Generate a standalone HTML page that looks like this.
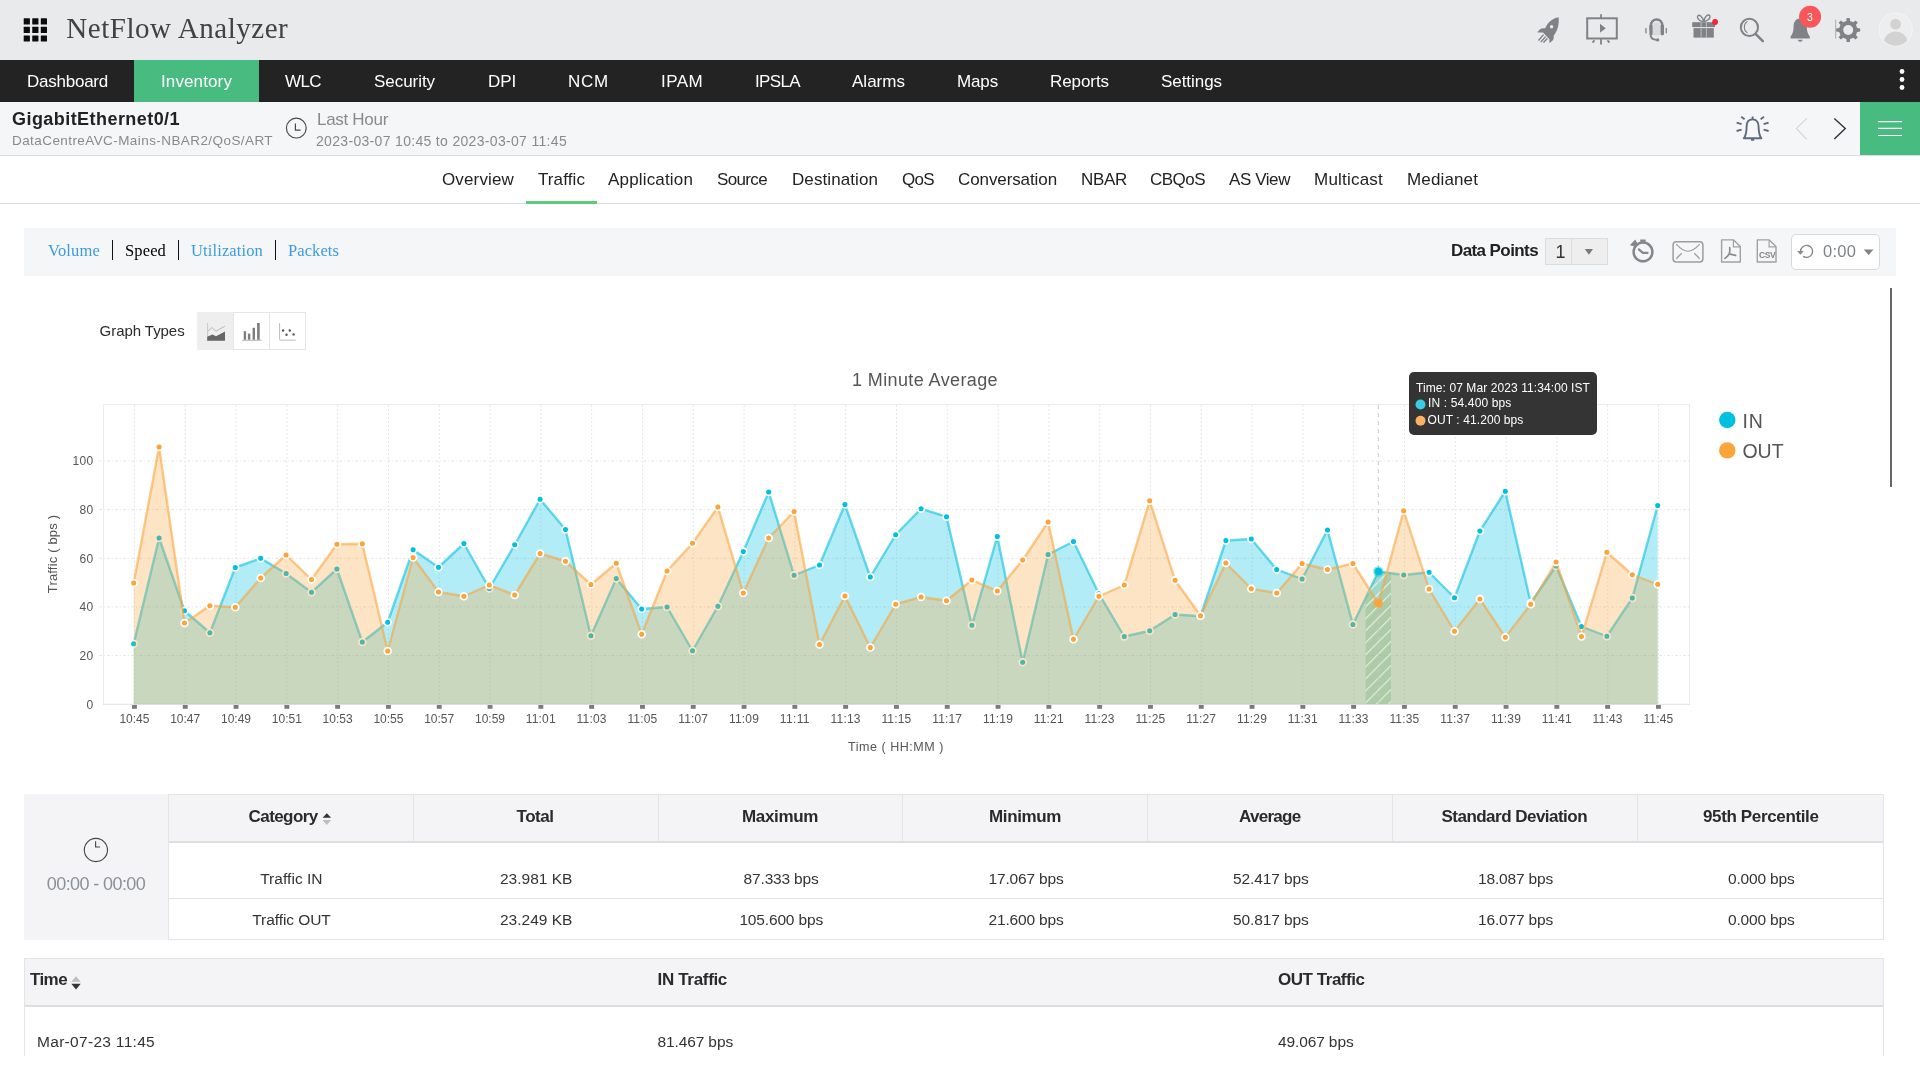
<!DOCTYPE html>
<html><head><meta charset="utf-8"><title>NetFlow Analyzer</title>
<style>
html,body{margin:0;padding:0;}
body{width:1920px;height:1080px;overflow:hidden;background:#fff;position:relative;font-family:"Liberation Sans",sans-serif;}
.abs{position:absolute;}
.fs{font-family:"Liberation Serif",serif;}
svg{position:absolute;overflow:visible;}
#wrap{position:absolute;left:0;top:0;width:1920px;height:1080px;will-change:transform;}
</style></head><body><div id="wrap">

<div class="abs" style="left:0;top:0;width:1920px;height:60px;background:#e9eaeb;"></div>
<svg width="1920" height="60" style="left:0;top:0"><rect x="23.70" y="18.30" width="6.2" height="6.2" rx="0.5" fill="#0c0c0c"/><rect x="32.25" y="18.30" width="6.2" height="6.2" rx="0.5" fill="#0c0c0c"/><rect x="40.80" y="18.30" width="6.2" height="6.2" rx="0.5" fill="#0c0c0c"/><rect x="23.70" y="26.85" width="6.2" height="6.2" rx="0.5" fill="#0c0c0c"/><rect x="32.25" y="26.85" width="6.2" height="6.2" rx="0.5" fill="#0c0c0c"/><rect x="40.80" y="26.85" width="6.2" height="6.2" rx="0.5" fill="#0c0c0c"/><rect x="23.70" y="35.40" width="6.2" height="6.2" rx="0.5" fill="#0c0c0c"/><rect x="32.25" y="35.40" width="6.2" height="6.2" rx="0.5" fill="#0c0c0c"/><rect x="40.80" y="35.40" width="6.2" height="6.2" rx="0.5" fill="#0c0c0c"/></svg>
<div class="abs fs" style="left:66.3px;top:11.0px;height:35px;line-height:35px;font-size:29px;font-weight:400;color:#424242;letter-spacing:0.536px;white-space:nowrap;">NetFlow Analyzer</div>
<div class="abs" style="left:0;top:60px;width:1920px;height:42px;background:#232323;"></div>
<div class="abs" style="left:134px;top:60px;width:125px;height:42px;background:#48bb80;"></div>
<div class="abs" style="left:27.0px;top:71.6px;height:20px;line-height:20px;font-size:17px;font-weight:400;color:#fff;letter-spacing:-0.240px;white-space:nowrap;">Dashboard</div>
<div class="abs" style="left:161.0px;top:71.6px;height:20px;line-height:20px;font-size:17px;font-weight:400;color:#fff;letter-spacing:0.120px;white-space:nowrap;">Inventory</div>
<div class="abs" style="left:285.0px;top:71.6px;height:20px;line-height:20px;font-size:17px;font-weight:400;color:#fff;letter-spacing:-0.592px;white-space:nowrap;">WLC</div>
<div class="abs" style="left:374.0px;top:71.6px;height:20px;line-height:20px;font-size:17px;font-weight:400;color:#fff;letter-spacing:-0.051px;white-space:nowrap;">Security</div>
<div class="abs" style="left:488.0px;top:71.6px;height:20px;line-height:20px;font-size:17px;font-weight:400;color:#fff;letter-spacing:-0.113px;white-space:nowrap;">DPI</div>
<div class="abs" style="left:568.0px;top:71.6px;height:20px;line-height:20px;font-size:17px;font-weight:400;color:#fff;letter-spacing:0.762px;white-space:nowrap;">NCM</div>
<div class="abs" style="left:661.0px;top:71.6px;height:20px;line-height:20px;font-size:17px;font-weight:400;color:#fff;letter-spacing:0.425px;white-space:nowrap;">IPAM</div>
<div class="abs" style="left:755.0px;top:71.6px;height:20px;line-height:20px;font-size:17px;font-weight:400;color:#fff;letter-spacing:-0.639px;white-space:nowrap;">IPSLA</div>
<div class="abs" style="left:852.0px;top:71.6px;height:20px;line-height:20px;font-size:17px;font-weight:400;color:#fff;letter-spacing:0.018px;white-space:nowrap;">Alarms</div>
<div class="abs" style="left:957.0px;top:71.6px;height:20px;line-height:20px;font-size:17px;font-weight:400;color:#fff;letter-spacing:-0.142px;white-space:nowrap;">Maps</div>
<div class="abs" style="left:1050.0px;top:71.6px;height:20px;line-height:20px;font-size:17px;font-weight:400;color:#fff;letter-spacing:-0.074px;white-space:nowrap;">Reports</div>
<div class="abs" style="left:1161.0px;top:71.6px;height:20px;line-height:20px;font-size:17px;font-weight:400;color:#fff;letter-spacing:-0.053px;white-space:nowrap;">Settings</div>
<svg width="20" height="42" style="left:1892px;top:60px"><circle cx="10" cy="11.5" r="2.4" fill="#fff"/><circle cx="10" cy="19.5" r="2.4" fill="#fff"/><circle cx="10" cy="27.5" r="2.4" fill="#fff"/></svg>
<div class="abs" style="left:0;top:102px;width:1920px;height:53px;background:#f5f6f8;border-bottom:1px solid #dcdcdc;"></div>
<div class="abs" style="left:12.0px;top:107.7px;height:22px;line-height:22px;font-size:18px;font-weight:700;color:#222;letter-spacing:0.443px;white-space:nowrap;">GigabitEthernet0/1</div>
<div class="abs" style="left:12.0px;top:133.0px;height:16px;line-height:16px;font-size:13.5px;font-weight:400;color:#8a8a8a;letter-spacing:0.422px;white-space:nowrap;">DataCentreAVC-Mains-NBAR2/QoS/ART</div>
<div class="abs" style="left:317.0px;top:110.2px;height:20px;line-height:20px;font-size:17px;font-weight:400;color:#8a8a8a;letter-spacing:-0.300px;white-space:nowrap;">Last Hour</div>
<div class="abs" style="left:316.0px;top:133.0px;height:17px;line-height:17px;font-size:14px;font-weight:400;color:#8a8a8a;letter-spacing:0.320px;white-space:nowrap;">2023-03-07 10:45 to 2023-03-07 11:45</div>
<svg width="24" height="24" style="left:284px;top:116px"><circle cx="12.3" cy="12.1" r="9.9" fill="none" stroke="#4a4a4a" stroke-width="1.2"/><path d="M11.4 7.4V14.2H16.6" fill="none" stroke="#4a4a4a" stroke-width="1.2"/></svg>
<div class="abs" style="left:1860px;top:102px;width:60px;height:53px;background:#48bb80;"></div>
<svg width="60" height="53" style="left:1860px;top:102px"><path d="M18 19.6H42M18 26.4H42M18 33.5H42" stroke="#fff" stroke-width="1.1"/></svg>
<div class="abs" style="left:0;top:156px;width:1920px;height:47px;background:#fff;border-bottom:1px solid #dcdcdc;"></div>
<div class="abs" style="left:442.0px;top:169.7px;height:20px;line-height:20px;font-size:17px;font-weight:400;color:#222;letter-spacing:0.144px;white-space:nowrap;">Overview</div>
<div class="abs" style="left:538.0px;top:169.7px;height:20px;line-height:20px;font-size:17px;font-weight:400;color:#222;letter-spacing:0.103px;white-space:nowrap;">Traffic</div>
<div class="abs" style="left:608.0px;top:169.7px;height:20px;line-height:20px;font-size:17px;font-weight:400;color:#222;letter-spacing:0.167px;white-space:nowrap;">Application</div>
<div class="abs" style="left:717.0px;top:169.7px;height:20px;line-height:20px;font-size:17px;font-weight:400;color:#222;letter-spacing:-0.643px;white-space:nowrap;">Source</div>
<div class="abs" style="left:792.0px;top:169.7px;height:20px;line-height:20px;font-size:17px;font-weight:400;color:#222;letter-spacing:0.087px;white-space:nowrap;">Destination</div>
<div class="abs" style="left:902.0px;top:169.7px;height:20px;line-height:20px;font-size:17px;font-weight:400;color:#222;letter-spacing:-0.672px;white-space:nowrap;">QoS</div>
<div class="abs" style="left:958.0px;top:169.7px;height:20px;line-height:20px;font-size:17px;font-weight:400;color:#222;letter-spacing:-0.097px;white-space:nowrap;">Conversation</div>
<div class="abs" style="left:1081.0px;top:169.7px;height:20px;line-height:20px;font-size:17px;font-weight:400;color:#222;letter-spacing:-0.308px;white-space:nowrap;">NBAR</div>
<div class="abs" style="left:1150.0px;top:169.7px;height:20px;line-height:20px;font-size:17px;font-weight:400;color:#222;letter-spacing:-0.527px;white-space:nowrap;">CBQoS</div>
<div class="abs" style="left:1229.0px;top:169.7px;height:20px;line-height:20px;font-size:17px;font-weight:400;color:#222;letter-spacing:-0.420px;white-space:nowrap;">AS View</div>
<div class="abs" style="left:1314.0px;top:169.7px;height:20px;line-height:20px;font-size:17px;font-weight:400;color:#222;letter-spacing:0.215px;white-space:nowrap;">Multicast</div>
<div class="abs" style="left:1407.0px;top:169.7px;height:20px;line-height:20px;font-size:17px;font-weight:400;color:#222;letter-spacing:0.134px;white-space:nowrap;">Medianet</div>
<div class="abs" style="left:526px;top:200.7px;width:71px;height:3px;background:#5ccb7c;"></div>
<div class="abs" style="left:24px;top:228px;width:1872px;height:48px;background:#f5f6f8;"></div>
<div class="abs fs" style="left:48.0px;top:241.0px;height:20px;line-height:20px;font-size:16.5px;font-weight:400;color:#3a9be0;letter-spacing:0.161px;white-space:nowrap;">Volume</div>
<div class="abs fs" style="left:125.0px;top:241.0px;height:20px;line-height:20px;font-size:16.5px;font-weight:400;color:#000;letter-spacing:0.135px;white-space:nowrap;">Speed</div>
<div class="abs fs" style="left:191.0px;top:241.0px;height:20px;line-height:20px;font-size:16.5px;font-weight:400;color:#3a9be0;letter-spacing:0.130px;white-space:nowrap;">Utilization</div>
<div class="abs fs" style="left:288.0px;top:241.0px;height:20px;line-height:20px;font-size:16.5px;font-weight:400;color:#3a9be0;letter-spacing:0.085px;white-space:nowrap;">Packets</div>
<div class="abs" style="left:112px;top:240px;width:1px;height:20px;background:#111;"></div>
<div class="abs" style="left:178px;top:240px;width:1px;height:20px;background:#111;"></div>
<div class="abs" style="left:275px;top:240px;width:1px;height:20px;background:#111;"></div>
<div class="abs" style="left:1451.0px;top:241.0px;height:20px;line-height:20px;font-size:17px;font-weight:700;color:#222;letter-spacing:-0.592px;white-space:nowrap;">Data Points</div>
<svg width="1920" height="60" style="left:0;top:0">
<g fill="#808285"><path d="M1558.6 17.2C1552.5 18.2 1547.6 22.4 1545.2 28.2L1541.3 28.6C1539.7 29.6 1538.3 31 1537.4 32.4L1543 32.6L1549.6 39.6L1549.2 43C1551.2 42.2 1552.6 40.8 1553.6 38.8L1553.8 35.6C1557.4 31 1559.4 24.4 1558.6 17.2Z"/></g><circle cx="1551.6" cy="26.8" r="1.7" fill="#e9eaeb"/>
<path d="M1538.5 40.5L1543.5 34.6M1540.8 42L1545.6 36.6M1543.4 42.4L1547.4 38.4" stroke="#808285" stroke-width="1.4" fill="none"/>
<rect x="1587.2" y="18.3" width="29.6" height="20.2" fill="none" stroke="#808285" stroke-width="2"/>
<path d="M1601 14.2V18M1601 39V44.6M1594.5 40.2L1592.6 42.6M1607.5 40.2L1609.4 42.6" stroke="#808285" stroke-width="1.8" fill="none"/>
<path d="M1600 23.7V32.7L1605.8 28.2Z" fill="#808285"/>
<rect x="1652.4" y="22.6" width="8.2" height="13" rx="3" fill="#d9dadc"/>
<path d="M1650.7 30V26.5C1650.7 17 1662.5 17 1662.5 26.5V30" fill="none" stroke="#808285" stroke-width="2.5"/>
<rect x="1649.4" y="24.8" width="3.2" height="10.4" rx="1.2" fill="#808285"/><rect x="1660.6" y="24.8" width="3.4" height="10.4" rx="1.2" fill="#808285"/>
<rect x="1645.3" y="28.1" width="1.3" height="5.2" fill="#808285"/><rect x="1665.6" y="28.1" width="1.3" height="5.2" fill="#808285"/>
<path d="M1650.6 34.6C1650.6 38.2 1652.6 39.9 1656.6 39.9" fill="none" stroke="#808285" stroke-width="1.9"/><circle cx="1657.6" cy="39.9" r="1.7" fill="#808285"/>
<rect x="1692.2" y="22.2" width="22.9" height="4.9" fill="#808285"/><rect x="1693.5" y="28.1" width="20.3" height="9.5" fill="#808285"/>
<path d="M1701.1 22.2V37.6M1706.4 22.2V37.6" stroke="#d0d1d2" stroke-width="0.7"/>
<path d="M1703.6 21.6C1700 21.4 1696.6 18.6 1697.6 16.2C1698.8 13.6 1702.6 16.4 1703.6 21.4C1704.6 16.4 1708.6 13.4 1709.8 15.8C1710.8 18.2 1707.4 21.4 1703.8 21.6" fill="none" stroke="#808285" stroke-width="1.4"/>
<circle cx="1715.1" cy="22" r="2.9" fill="#f8212f"/>
<circle cx="1749.4" cy="27.4" r="8.6" fill="none" stroke="#808285" stroke-width="2"/>
<path d="M1747.6 21.6C1743.4 23.6 1743.2 30.2 1747.4 32.8" fill="none" stroke="#808285" stroke-width="1.1"/>
<path d="M1755.8 34.2L1762.8 41.2" stroke="#808285" stroke-width="2.6" stroke-linecap="round"/>
<path d="M1800.2 18.6C1795.8 18.6 1793.6 22 1793.6 26.6C1793.6 31.4 1792.6 34 1790.6 36.4V38.4H1809.8V36.4C1807.8 34 1806.8 31.4 1806.8 26.6C1806.8 22 1804.6 18.6 1800.2 18.6Z" fill="#808285"/>
<path d="M1797.8 39.8H1802.6C1802.6 42.4 1797.8 42.4 1797.8 39.8Z" fill="#808285"/>
<circle cx="1810.1" cy="16.8" r="11" fill="#f7575a"/>
<path d="M1835.7 19.8V38.6" stroke="#9a9b9d" stroke-width="0.8"/>
<path d="M1846.32 20.99 L1846.61 18.01 L1849.79 18.01 L1850.08 20.99 L1853.24 22.30 L1855.56 20.39 L1857.81 22.64 L1855.90 24.96 L1857.21 28.12 L1860.19 28.41 L1860.19 31.59 L1857.21 31.88 L1855.90 35.04 L1857.81 37.36 L1855.56 39.61 L1853.24 37.70 L1850.08 39.01 L1849.79 41.99 L1846.61 41.99 L1846.32 39.01 L1843.16 37.70 L1840.84 39.61 L1838.59 37.36 L1840.50 35.04 L1839.19 31.88 L1836.21 31.59 L1836.21 28.41 L1839.19 28.12 L1840.50 24.96 L1838.59 22.64 L1840.84 20.39 L1843.16 22.30Z" fill="#808285"/><circle cx="1848.2" cy="30" r="5" fill="#e9eaeb"/>
<defs><clipPath id="avc"><circle cx="1895.7" cy="29.5" r="16.2"/></clipPath></defs>
<circle cx="1895.7" cy="29.5" r="16.6" fill="#eeeeee" stroke="#f6f6f6" stroke-width="1"/>
<g clip-path="url(#avc)" fill="#d2d2d2"><circle cx="1895.6" cy="24.2" r="5.4"/><ellipse cx="1895.7" cy="43.4" rx="12" ry="12"/></g>
</svg>
<div class="abs" style="left:1807.1px;top:10.7px;height:13px;line-height:13px;font-size:10.5px;font-weight:400;color:#fff;letter-spacing:0.161px;white-space:nowrap;">3</div>
<svg width="1920" height="160" style="left:0;top:0">
<path d="M1752.6 119.4C1748.4 119.4 1746.6 122.6 1746.6 126.4C1746.6 131.6 1746 135.4 1743.8 138.3H1761.4C1759.2 135.4 1758.6 131.6 1758.6 126.4C1758.6 122.6 1756.8 119.4 1752.6 119.4Z" fill="none" stroke="#5f6b7a" stroke-width="1.9" stroke-linejoin="round"/>
<path d="M1752.6 116.6V119.4M1751 139.9H1754.2" stroke="#5f6b7a" stroke-width="1.9" fill="none"/>
<path d="M1741.2 116.8L1744.6 119.2M1736.6 122.6L1741.6 124.2M1736.6 131L1741.6 129.6M1764 116.8L1760.6 119.2M1768.6 122.6L1763.6 124.2M1768.6 131L1763.6 129.6" stroke="#5f6b7a" stroke-width="1.9" fill="none"/>
<path d="M1806.8 118.4L1796.4 128.4L1806.8 139.4" fill="none" stroke="#d4d4d4" stroke-width="1.1"/>
<path d="M1834.3 118.4L1845.3 128.4L1834.3 139.1" fill="none" stroke="#333" stroke-width="1.4"/>
</svg>
<div class="abs" style="left:1545px;top:238px;width:61px;height:25px;background:#eeeeee;border:1px solid #dcdcdc;"></div>
<div class="abs" style="left:1571px;top:238px;width:1px;height:26px;background:#dcdcdc;"></div>
<div class="abs" style="left:1555.4px;top:240.5px;height:22px;line-height:22px;font-size:18px;font-weight:400;color:#333;letter-spacing:-0.010px;white-space:nowrap;">1</div>
<svg width="1920" height="300" style="left:0;top:0">
<path d="M1584.8 249H1593L1588.9 254.8Z" fill="#7a7a7a"/>
<circle cx="1643" cy="251.9" r="9.4" fill="none" stroke="#85888b" stroke-width="2.5"/>
<path d="M1638.2 248.8L1642.9 252.8H1648.4" fill="none" stroke="#85888b" stroke-width="2.2" stroke-linejoin="round"/>
<rect x="1640.2" y="239.5" width="5.5" height="2.4" fill="#85888b"/>
<path d="M1629.9 245.2L1635.2 239.4L1637.6 243.8L1634.4 246.6Z" fill="#85888b"/>
<rect x="1673.1" y="241.8" width="29.8" height="20.1" rx="3.2" fill="none" stroke="#9c9d9f" stroke-width="1.5"/>
<path d="M1676.2 244.2C1681 249.4 1685 251.2 1687.9 251.2C1690.8 251.2 1695 249.4 1699.7 244.2" fill="none" stroke="#9c9d9f" stroke-width="1.1"/>
<path d="M1676.2 258.7L1681.7 253.2M1699.7 258.7L1694.3 253.2" fill="none" stroke="#9c9d9f" stroke-width="1.3"/>
<path d="M1721.6 239.9H1733.6L1740.3 246.6V262H1721.6Z" fill="none" stroke="#a0a1a3" stroke-width="1.4" stroke-linejoin="round"/>
<path d="M1733.4 239.9V246.8H1740.3" fill="none" stroke="#a0a1a3" stroke-width="1.2"/>
<path d="M1729.7 247.6C1730.2 250.4 1729.6 252.6 1729.2 254C1728 256 1726.4 257.4 1724.8 258.4M1729.4 254C1731.4 254.4 1733.6 254.8 1735.6 255.4" fill="none" stroke="#8a8c8e" stroke-width="1.7" stroke-linecap="round"/>
<path d="M1757.3 239.9H1769.3L1776 246.6V262H1757.3Z" fill="none" stroke="#a0a1a3" stroke-width="1.4" stroke-linejoin="round"/>
<path d="M1769.1 239.9V246.8H1776" fill="none" stroke="#a0a1a3" stroke-width="1.2"/>
</svg>
<div class="abs" style="left:1758.9px;top:250.0px;height:10px;line-height:10px;font-size:8.5px;font-weight:700;color:#858789;letter-spacing:-0.393px;white-space:nowrap;">CSV</div>
<div class="abs" style="left:1791.2px;top:233.9px;width:86.6px;height:33.9px;background:#fff;border:1px solid #d8d8d8;border-radius:5px;"></div>
<svg width="1920" height="300" style="left:0;top:0">
<path d="M1800.6 251.4A6 6 0 1 1 1803.2 256.3" fill="none" stroke="#85888b" stroke-width="1.4"/>
<path d="M1797.2 251L1803.7 251L1800.4 254.7Z" fill="#85888b"/>
<path d="M1863.7 249.6H1873.5L1868.6 255Z" fill="#808488"/>
</svg>
<div class="abs" style="left:1823.0px;top:241.2px;height:20px;line-height:20px;font-size:16.5px;font-weight:400;color:#808488;letter-spacing:0.297px;white-space:nowrap;">0:00</div>
<div class="abs" style="left:99.6px;top:322.0px;height:18px;line-height:18px;font-size:15px;font-weight:400;color:#2b2b2b;letter-spacing:-0.054px;white-space:nowrap;">Graph Types</div>
<div class="abs" style="left:197px;top:312px;width:109px;height:38px;border:1px solid #e6e6e6;box-sizing:border-box;background:#fff;"></div>
<div class="abs" style="left:197px;top:312px;width:37px;height:38px;background:#eeeeee;"></div>
<div class="abs" style="left:233px;top:312px;width:1px;height:38px;background:#e6e6e6;"></div>
<div class="abs" style="left:269px;top:312px;width:1px;height:38px;background:#e6e6e6;"></div>
<svg width="400" height="400" style="left:0;top:0">
<path d="M207.6 323V340.6" stroke="#c4c4c4" stroke-width="0.9" fill="none"/>
<path d="M207.6 331.4L211.8 327.6L216 331.2L224.8 326.2" stroke="#b9b9b9" stroke-width="1" fill="none"/>
<path d="M207.2 340.7V336.8L212.4 334.4L216 336.2L225 331.6V340.7Z" fill="#666"/>
<g fill="#7d7d7d"><rect x="243.7" y="331.2" width="2.4" height="8.6"/><rect x="247.9" y="333.6" width="2.4" height="6.2"/><rect x="252.6" y="327.8" width="2.4" height="12"/><rect x="257.1" y="323" width="2.6" height="16.8"/></g>
<path d="M242.2 340.3H261.6" stroke="#aaa" stroke-width="0.9"/>
<path d="M279.6 323.2V339.2Q279.6 340.2 280.6 340.2H295.8" stroke="#bdbdbd" stroke-width="1" fill="none"/>
<g fill="#555"><circle cx="283.1" cy="330.5" r="1.2"/><circle cx="286.5" cy="334.7" r="1.2"/><circle cx="289.8" cy="330.5" r="1.2"/><circle cx="293.6" cy="334.4" r="1.2"/></g>
</svg>
<svg width="1920" height="1080" style="left:0;top:0" shape-rendering="auto">
<defs><pattern id="hatch" width="8.5" height="8.5" patternUnits="userSpaceOnUse" patternTransform="rotate(-45)"><rect width="8.5" height="8.5" fill="#6fb072" fill-opacity="0.3"/><line x1="0" y1="0.6" x2="8.5" y2="0.6" stroke="#fff" stroke-opacity="0.7" stroke-width="1.1"/></pattern><clipPath id="inclip"><polygon points="133.7,704.2 133.7,643.75 159.1,538.00 184.5,610.75 209.9,632.75 235.3,567.50 260.7,558.25 286.1,573.50 311.5,592.25 336.9,569.00 362.3,642.00 387.7,622.25 413.1,549.75 438.5,567.25 463.9,543.50 489.3,588.50 514.7,544.75 540.1,499.25 565.5,529.50 590.9,635.75 616.3,578.50 641.7,609.00 667.1,607.00 692.5,650.75 717.9,606.25 743.3,551.50 768.7,492.00 794.1,575.25 819.5,565.00 844.9,504.50 870.3,577.00 895.7,534.75 921.1,508.75 946.5,516.75 971.9,625.25 997.3,536.50 1022.7,662.25 1048.1,554.50 1073.5,541.50 1098.9,593.75 1124.3,636.50 1149.7,630.75 1175.1,614.50 1200.5,616.25 1225.9,540.50 1251.3,539.00 1276.7,569.50 1302.1,579.00 1327.5,530.00 1352.9,624.50 1378.3,571.50 1403.7,575.00 1429.1,572.25 1454.5,597.75 1479.9,531.00 1505.3,491.25 1530.7,603.00 1556.1,566.00 1581.5,626.50 1606.9,636.25 1632.3,598.00 1657.7,505.50 1657.7,704.2"/></clipPath></defs>
<path d="M103.5 704.5V404.5H1689.5V704.5" fill="none" stroke="#ebebeb" stroke-width="1"/>
<path d="M103 704.3H1690" fill="none" stroke="#e2e2e2" stroke-width="1"/>
<path d="M99 655.6H1689" stroke="#e6e6e6" stroke-width="1" stroke-dasharray="3,2,1,2" fill="none"/>
<path d="M99 606.9H1689" stroke="#e6e6e6" stroke-width="1" stroke-dasharray="3,2,1,2" fill="none"/>
<path d="M99 558.3H1689" stroke="#e6e6e6" stroke-width="1" stroke-dasharray="3,2,1,2" fill="none"/>
<path d="M99 509.6H1689" stroke="#e6e6e6" stroke-width="1" stroke-dasharray="3,2,1,2" fill="none"/>
<path d="M99 461.0H1689" stroke="#e6e6e6" stroke-width="1" stroke-dasharray="3,2,1,2" fill="none"/>
<path d="M134.5 405V704" stroke="#e8e8e8" stroke-width="1" stroke-dasharray="2,2" fill="none"/>
<path d="M185.3 405V704" stroke="#e8e8e8" stroke-width="1" stroke-dasharray="2,2" fill="none"/>
<path d="M236.1 405V704" stroke="#e8e8e8" stroke-width="1" stroke-dasharray="2,2" fill="none"/>
<path d="M286.9 405V704" stroke="#e8e8e8" stroke-width="1" stroke-dasharray="2,2" fill="none"/>
<path d="M337.7 405V704" stroke="#e8e8e8" stroke-width="1" stroke-dasharray="2,2" fill="none"/>
<path d="M388.5 405V704" stroke="#e8e8e8" stroke-width="1" stroke-dasharray="2,2" fill="none"/>
<path d="M439.3 405V704" stroke="#e8e8e8" stroke-width="1" stroke-dasharray="2,2" fill="none"/>
<path d="M490.1 405V704" stroke="#e8e8e8" stroke-width="1" stroke-dasharray="2,2" fill="none"/>
<path d="M540.9 405V704" stroke="#e8e8e8" stroke-width="1" stroke-dasharray="2,2" fill="none"/>
<path d="M591.7 405V704" stroke="#e8e8e8" stroke-width="1" stroke-dasharray="2,2" fill="none"/>
<path d="M642.5 405V704" stroke="#e8e8e8" stroke-width="1" stroke-dasharray="2,2" fill="none"/>
<path d="M693.3 405V704" stroke="#e8e8e8" stroke-width="1" stroke-dasharray="2,2" fill="none"/>
<path d="M744.1 405V704" stroke="#e8e8e8" stroke-width="1" stroke-dasharray="2,2" fill="none"/>
<path d="M794.9 405V704" stroke="#e8e8e8" stroke-width="1" stroke-dasharray="2,2" fill="none"/>
<path d="M845.7 405V704" stroke="#e8e8e8" stroke-width="1" stroke-dasharray="2,2" fill="none"/>
<path d="M896.5 405V704" stroke="#e8e8e8" stroke-width="1" stroke-dasharray="2,2" fill="none"/>
<path d="M947.3 405V704" stroke="#e8e8e8" stroke-width="1" stroke-dasharray="2,2" fill="none"/>
<path d="M998.1 405V704" stroke="#e8e8e8" stroke-width="1" stroke-dasharray="2,2" fill="none"/>
<path d="M1048.9 405V704" stroke="#e8e8e8" stroke-width="1" stroke-dasharray="2,2" fill="none"/>
<path d="M1099.7 405V704" stroke="#e8e8e8" stroke-width="1" stroke-dasharray="2,2" fill="none"/>
<path d="M1150.5 405V704" stroke="#e8e8e8" stroke-width="1" stroke-dasharray="2,2" fill="none"/>
<path d="M1201.3 405V704" stroke="#e8e8e8" stroke-width="1" stroke-dasharray="2,2" fill="none"/>
<path d="M1252.1 405V704" stroke="#e8e8e8" stroke-width="1" stroke-dasharray="2,2" fill="none"/>
<path d="M1302.9 405V704" stroke="#e8e8e8" stroke-width="1" stroke-dasharray="2,2" fill="none"/>
<path d="M1353.7 405V704" stroke="#e8e8e8" stroke-width="1" stroke-dasharray="2,2" fill="none"/>
<path d="M1404.5 405V704" stroke="#e8e8e8" stroke-width="1" stroke-dasharray="2,2" fill="none"/>
<path d="M1455.3 405V704" stroke="#e8e8e8" stroke-width="1" stroke-dasharray="2,2" fill="none"/>
<path d="M1506.1 405V704" stroke="#e8e8e8" stroke-width="1" stroke-dasharray="2,2" fill="none"/>
<path d="M1556.9 405V704" stroke="#e8e8e8" stroke-width="1" stroke-dasharray="2,2" fill="none"/>
<path d="M1607.7 405V704" stroke="#e8e8e8" stroke-width="1" stroke-dasharray="2,2" fill="none"/>
<path d="M1658.5 405V704" stroke="#e8e8e8" stroke-width="1" stroke-dasharray="2,2" fill="none"/>
<polygon points="133.7,704.2 133.7,643.75 159.1,538.00 184.5,610.75 209.9,632.75 235.3,567.50 260.7,558.25 286.1,573.50 311.5,592.25 336.9,569.00 362.3,642.00 387.7,622.25 413.1,549.75 438.5,567.25 463.9,543.50 489.3,588.50 514.7,544.75 540.1,499.25 565.5,529.50 590.9,635.75 616.3,578.50 641.7,609.00 667.1,607.00 692.5,650.75 717.9,606.25 743.3,551.50 768.7,492.00 794.1,575.25 819.5,565.00 844.9,504.50 870.3,577.00 895.7,534.75 921.1,508.75 946.5,516.75 971.9,625.25 997.3,536.50 1022.7,662.25 1048.1,554.50 1073.5,541.50 1098.9,593.75 1124.3,636.50 1149.7,630.75 1175.1,614.50 1200.5,616.25 1225.9,540.50 1251.3,539.00 1276.7,569.50 1302.1,579.00 1327.5,530.00 1352.9,624.50 1378.3,571.50 1403.7,575.00 1429.1,572.25 1454.5,597.75 1479.9,531.00 1505.3,491.25 1530.7,603.00 1556.1,566.00 1581.5,626.50 1606.9,636.25 1632.3,598.00 1657.7,505.50 1657.7,704.2" fill="#00c0e0" fill-opacity="0.3"/>
<polyline points="133.7,643.75 159.1,538.00 184.5,610.75 209.9,632.75 235.3,567.50 260.7,558.25 286.1,573.50 311.5,592.25 336.9,569.00 362.3,642.00 387.7,622.25 413.1,549.75 438.5,567.25 463.9,543.50 489.3,588.50 514.7,544.75 540.1,499.25 565.5,529.50 590.9,635.75 616.3,578.50 641.7,609.00 667.1,607.00 692.5,650.75 717.9,606.25 743.3,551.50 768.7,492.00 794.1,575.25 819.5,565.00 844.9,504.50 870.3,577.00 895.7,534.75 921.1,508.75 946.5,516.75 971.9,625.25 997.3,536.50 1022.7,662.25 1048.1,554.50 1073.5,541.50 1098.9,593.75 1124.3,636.50 1149.7,630.75 1175.1,614.50 1200.5,616.25 1225.9,540.50 1251.3,539.00 1276.7,569.50 1302.1,579.00 1327.5,530.00 1352.9,624.50 1378.3,571.50 1403.7,575.00 1429.1,572.25 1454.5,597.75 1479.9,531.00 1505.3,491.25 1530.7,603.00 1556.1,566.00 1581.5,626.50 1606.9,636.25 1632.3,598.00 1657.7,505.50" fill="none" stroke="#00c0e0" stroke-opacity="0.58" stroke-width="2.4" stroke-linejoin="round"/>
<circle cx="133.7" cy="643.75" r="3.4" fill="#00c0e0" stroke="#fff" stroke-width="1.7"/>
<circle cx="159.1" cy="538.00" r="3.4" fill="#00c0e0" stroke="#fff" stroke-width="1.7"/>
<circle cx="184.5" cy="610.75" r="3.4" fill="#00c0e0" stroke="#fff" stroke-width="1.7"/>
<circle cx="209.9" cy="632.75" r="3.4" fill="#00c0e0" stroke="#fff" stroke-width="1.7"/>
<circle cx="235.3" cy="567.50" r="3.4" fill="#00c0e0" stroke="#fff" stroke-width="1.7"/>
<circle cx="260.7" cy="558.25" r="3.4" fill="#00c0e0" stroke="#fff" stroke-width="1.7"/>
<circle cx="286.1" cy="573.50" r="3.4" fill="#00c0e0" stroke="#fff" stroke-width="1.7"/>
<circle cx="311.5" cy="592.25" r="3.4" fill="#00c0e0" stroke="#fff" stroke-width="1.7"/>
<circle cx="336.9" cy="569.00" r="3.4" fill="#00c0e0" stroke="#fff" stroke-width="1.7"/>
<circle cx="362.3" cy="642.00" r="3.4" fill="#00c0e0" stroke="#fff" stroke-width="1.7"/>
<circle cx="387.7" cy="622.25" r="3.4" fill="#00c0e0" stroke="#fff" stroke-width="1.7"/>
<circle cx="413.1" cy="549.75" r="3.4" fill="#00c0e0" stroke="#fff" stroke-width="1.7"/>
<circle cx="438.5" cy="567.25" r="3.4" fill="#00c0e0" stroke="#fff" stroke-width="1.7"/>
<circle cx="463.9" cy="543.50" r="3.4" fill="#00c0e0" stroke="#fff" stroke-width="1.7"/>
<circle cx="489.3" cy="588.50" r="3.4" fill="#00c0e0" stroke="#fff" stroke-width="1.7"/>
<circle cx="514.7" cy="544.75" r="3.4" fill="#00c0e0" stroke="#fff" stroke-width="1.7"/>
<circle cx="540.1" cy="499.25" r="3.4" fill="#00c0e0" stroke="#fff" stroke-width="1.7"/>
<circle cx="565.5" cy="529.50" r="3.4" fill="#00c0e0" stroke="#fff" stroke-width="1.7"/>
<circle cx="590.9" cy="635.75" r="3.4" fill="#00c0e0" stroke="#fff" stroke-width="1.7"/>
<circle cx="616.3" cy="578.50" r="3.4" fill="#00c0e0" stroke="#fff" stroke-width="1.7"/>
<circle cx="641.7" cy="609.00" r="3.4" fill="#00c0e0" stroke="#fff" stroke-width="1.7"/>
<circle cx="667.1" cy="607.00" r="3.4" fill="#00c0e0" stroke="#fff" stroke-width="1.7"/>
<circle cx="692.5" cy="650.75" r="3.4" fill="#00c0e0" stroke="#fff" stroke-width="1.7"/>
<circle cx="717.9" cy="606.25" r="3.4" fill="#00c0e0" stroke="#fff" stroke-width="1.7"/>
<circle cx="743.3" cy="551.50" r="3.4" fill="#00c0e0" stroke="#fff" stroke-width="1.7"/>
<circle cx="768.7" cy="492.00" r="3.4" fill="#00c0e0" stroke="#fff" stroke-width="1.7"/>
<circle cx="794.1" cy="575.25" r="3.4" fill="#00c0e0" stroke="#fff" stroke-width="1.7"/>
<circle cx="819.5" cy="565.00" r="3.4" fill="#00c0e0" stroke="#fff" stroke-width="1.7"/>
<circle cx="844.9" cy="504.50" r="3.4" fill="#00c0e0" stroke="#fff" stroke-width="1.7"/>
<circle cx="870.3" cy="577.00" r="3.4" fill="#00c0e0" stroke="#fff" stroke-width="1.7"/>
<circle cx="895.7" cy="534.75" r="3.4" fill="#00c0e0" stroke="#fff" stroke-width="1.7"/>
<circle cx="921.1" cy="508.75" r="3.4" fill="#00c0e0" stroke="#fff" stroke-width="1.7"/>
<circle cx="946.5" cy="516.75" r="3.4" fill="#00c0e0" stroke="#fff" stroke-width="1.7"/>
<circle cx="971.9" cy="625.25" r="3.4" fill="#00c0e0" stroke="#fff" stroke-width="1.7"/>
<circle cx="997.3" cy="536.50" r="3.4" fill="#00c0e0" stroke="#fff" stroke-width="1.7"/>
<circle cx="1022.7" cy="662.25" r="3.4" fill="#00c0e0" stroke="#fff" stroke-width="1.7"/>
<circle cx="1048.1" cy="554.50" r="3.4" fill="#00c0e0" stroke="#fff" stroke-width="1.7"/>
<circle cx="1073.5" cy="541.50" r="3.4" fill="#00c0e0" stroke="#fff" stroke-width="1.7"/>
<circle cx="1098.9" cy="593.75" r="3.4" fill="#00c0e0" stroke="#fff" stroke-width="1.7"/>
<circle cx="1124.3" cy="636.50" r="3.4" fill="#00c0e0" stroke="#fff" stroke-width="1.7"/>
<circle cx="1149.7" cy="630.75" r="3.4" fill="#00c0e0" stroke="#fff" stroke-width="1.7"/>
<circle cx="1175.1" cy="614.50" r="3.4" fill="#00c0e0" stroke="#fff" stroke-width="1.7"/>
<circle cx="1200.5" cy="616.25" r="3.4" fill="#00c0e0" stroke="#fff" stroke-width="1.7"/>
<circle cx="1225.9" cy="540.50" r="3.4" fill="#00c0e0" stroke="#fff" stroke-width="1.7"/>
<circle cx="1251.3" cy="539.00" r="3.4" fill="#00c0e0" stroke="#fff" stroke-width="1.7"/>
<circle cx="1276.7" cy="569.50" r="3.4" fill="#00c0e0" stroke="#fff" stroke-width="1.7"/>
<circle cx="1302.1" cy="579.00" r="3.4" fill="#00c0e0" stroke="#fff" stroke-width="1.7"/>
<circle cx="1327.5" cy="530.00" r="3.4" fill="#00c0e0" stroke="#fff" stroke-width="1.7"/>
<circle cx="1352.9" cy="624.50" r="3.4" fill="#00c0e0" stroke="#fff" stroke-width="1.7"/>
<circle cx="1403.7" cy="575.00" r="3.4" fill="#00c0e0" stroke="#fff" stroke-width="1.7"/>
<circle cx="1429.1" cy="572.25" r="3.4" fill="#00c0e0" stroke="#fff" stroke-width="1.7"/>
<circle cx="1454.5" cy="597.75" r="3.4" fill="#00c0e0" stroke="#fff" stroke-width="1.7"/>
<circle cx="1479.9" cy="531.00" r="3.4" fill="#00c0e0" stroke="#fff" stroke-width="1.7"/>
<circle cx="1505.3" cy="491.25" r="3.4" fill="#00c0e0" stroke="#fff" stroke-width="1.7"/>
<circle cx="1530.7" cy="603.00" r="3.4" fill="#00c0e0" stroke="#fff" stroke-width="1.7"/>
<circle cx="1556.1" cy="566.00" r="3.4" fill="#00c0e0" stroke="#fff" stroke-width="1.7"/>
<circle cx="1581.5" cy="626.50" r="3.4" fill="#00c0e0" stroke="#fff" stroke-width="1.7"/>
<circle cx="1606.9" cy="636.25" r="3.4" fill="#00c0e0" stroke="#fff" stroke-width="1.7"/>
<circle cx="1632.3" cy="598.00" r="3.4" fill="#00c0e0" stroke="#fff" stroke-width="1.7"/>
<circle cx="1657.7" cy="505.50" r="3.4" fill="#00c0e0" stroke="#fff" stroke-width="1.7"/>
<polygon points="133.7,704.2 133.7,583.00 159.1,447.00 184.5,623.00 209.9,605.75 235.3,607.25 260.7,578.00 286.1,555.00 311.5,579.50 336.9,544.25 362.3,543.75 387.7,651.00 413.1,557.50 438.5,592.00 463.9,596.25 489.3,585.00 514.7,595.00 540.1,553.50 565.5,561.25 590.9,584.50 616.3,563.25 641.7,634.25 667.1,571.00 692.5,543.25 717.9,507.00 743.3,593.00 768.7,538.00 794.1,511.50 819.5,644.50 844.9,596.00 870.3,647.50 895.7,604.25 921.1,597.00 946.5,600.75 971.9,580.00 997.3,591.00 1022.7,560.00 1048.1,522.00 1073.5,639.25 1098.9,596.25 1124.3,585.00 1149.7,500.75 1175.1,580.25 1200.5,615.75 1225.9,563.00 1251.3,588.75 1276.7,593.00 1302.1,563.50 1327.5,569.50 1352.9,563.50 1378.3,603.25 1403.7,510.75 1429.1,589.00 1454.5,631.25 1479.9,599.00 1505.3,637.25 1530.7,604.25 1556.1,562.00 1581.5,636.50 1606.9,552.25 1632.3,574.75 1657.7,584.25 1657.7,704.2" fill="#faa43a" fill-opacity="0.3"/>
<rect x="1365.6" y="404" width="25.4" height="300.2" fill="url(#hatch)" clip-path="url(#inclip)"/>
<polyline points="133.7,583.00 159.1,447.00 184.5,623.00 209.9,605.75 235.3,607.25 260.7,578.00 286.1,555.00 311.5,579.50 336.9,544.25 362.3,543.75 387.7,651.00 413.1,557.50 438.5,592.00 463.9,596.25 489.3,585.00 514.7,595.00 540.1,553.50 565.5,561.25 590.9,584.50 616.3,563.25 641.7,634.25 667.1,571.00 692.5,543.25 717.9,507.00 743.3,593.00 768.7,538.00 794.1,511.50 819.5,644.50 844.9,596.00 870.3,647.50 895.7,604.25 921.1,597.00 946.5,600.75 971.9,580.00 997.3,591.00 1022.7,560.00 1048.1,522.00 1073.5,639.25 1098.9,596.25 1124.3,585.00 1149.7,500.75 1175.1,580.25 1200.5,615.75 1225.9,563.00 1251.3,588.75 1276.7,593.00 1302.1,563.50 1327.5,569.50 1352.9,563.50 1378.3,603.25 1403.7,510.75 1429.1,589.00 1454.5,631.25 1479.9,599.00 1505.3,637.25 1530.7,604.25 1556.1,562.00 1581.5,636.50 1606.9,552.25 1632.3,574.75 1657.7,584.25" fill="none" stroke="#faa43a" stroke-opacity="0.58" stroke-width="2.4" stroke-linejoin="round"/>
<circle cx="133.7" cy="583.00" r="3.4" fill="#faa43a" stroke="#fff" stroke-width="1.7"/>
<circle cx="159.1" cy="447.00" r="3.4" fill="#faa43a" stroke="#fff" stroke-width="1.7"/>
<circle cx="184.5" cy="623.00" r="3.4" fill="#faa43a" stroke="#fff" stroke-width="1.7"/>
<circle cx="209.9" cy="605.75" r="3.4" fill="#faa43a" stroke="#fff" stroke-width="1.7"/>
<circle cx="235.3" cy="607.25" r="3.4" fill="#faa43a" stroke="#fff" stroke-width="1.7"/>
<circle cx="260.7" cy="578.00" r="3.4" fill="#faa43a" stroke="#fff" stroke-width="1.7"/>
<circle cx="286.1" cy="555.00" r="3.4" fill="#faa43a" stroke="#fff" stroke-width="1.7"/>
<circle cx="311.5" cy="579.50" r="3.4" fill="#faa43a" stroke="#fff" stroke-width="1.7"/>
<circle cx="336.9" cy="544.25" r="3.4" fill="#faa43a" stroke="#fff" stroke-width="1.7"/>
<circle cx="362.3" cy="543.75" r="3.4" fill="#faa43a" stroke="#fff" stroke-width="1.7"/>
<circle cx="387.7" cy="651.00" r="3.4" fill="#faa43a" stroke="#fff" stroke-width="1.7"/>
<circle cx="413.1" cy="557.50" r="3.4" fill="#faa43a" stroke="#fff" stroke-width="1.7"/>
<circle cx="438.5" cy="592.00" r="3.4" fill="#faa43a" stroke="#fff" stroke-width="1.7"/>
<circle cx="463.9" cy="596.25" r="3.4" fill="#faa43a" stroke="#fff" stroke-width="1.7"/>
<circle cx="489.3" cy="585.00" r="3.4" fill="#faa43a" stroke="#fff" stroke-width="1.7"/>
<circle cx="514.7" cy="595.00" r="3.4" fill="#faa43a" stroke="#fff" stroke-width="1.7"/>
<circle cx="540.1" cy="553.50" r="3.4" fill="#faa43a" stroke="#fff" stroke-width="1.7"/>
<circle cx="565.5" cy="561.25" r="3.4" fill="#faa43a" stroke="#fff" stroke-width="1.7"/>
<circle cx="590.9" cy="584.50" r="3.4" fill="#faa43a" stroke="#fff" stroke-width="1.7"/>
<circle cx="616.3" cy="563.25" r="3.4" fill="#faa43a" stroke="#fff" stroke-width="1.7"/>
<circle cx="641.7" cy="634.25" r="3.4" fill="#faa43a" stroke="#fff" stroke-width="1.7"/>
<circle cx="667.1" cy="571.00" r="3.4" fill="#faa43a" stroke="#fff" stroke-width="1.7"/>
<circle cx="692.5" cy="543.25" r="3.4" fill="#faa43a" stroke="#fff" stroke-width="1.7"/>
<circle cx="717.9" cy="507.00" r="3.4" fill="#faa43a" stroke="#fff" stroke-width="1.7"/>
<circle cx="743.3" cy="593.00" r="3.4" fill="#faa43a" stroke="#fff" stroke-width="1.7"/>
<circle cx="768.7" cy="538.00" r="3.4" fill="#faa43a" stroke="#fff" stroke-width="1.7"/>
<circle cx="794.1" cy="511.50" r="3.4" fill="#faa43a" stroke="#fff" stroke-width="1.7"/>
<circle cx="819.5" cy="644.50" r="3.4" fill="#faa43a" stroke="#fff" stroke-width="1.7"/>
<circle cx="844.9" cy="596.00" r="3.4" fill="#faa43a" stroke="#fff" stroke-width="1.7"/>
<circle cx="870.3" cy="647.50" r="3.4" fill="#faa43a" stroke="#fff" stroke-width="1.7"/>
<circle cx="895.7" cy="604.25" r="3.4" fill="#faa43a" stroke="#fff" stroke-width="1.7"/>
<circle cx="921.1" cy="597.00" r="3.4" fill="#faa43a" stroke="#fff" stroke-width="1.7"/>
<circle cx="946.5" cy="600.75" r="3.4" fill="#faa43a" stroke="#fff" stroke-width="1.7"/>
<circle cx="971.9" cy="580.00" r="3.4" fill="#faa43a" stroke="#fff" stroke-width="1.7"/>
<circle cx="997.3" cy="591.00" r="3.4" fill="#faa43a" stroke="#fff" stroke-width="1.7"/>
<circle cx="1022.7" cy="560.00" r="3.4" fill="#faa43a" stroke="#fff" stroke-width="1.7"/>
<circle cx="1048.1" cy="522.00" r="3.4" fill="#faa43a" stroke="#fff" stroke-width="1.7"/>
<circle cx="1073.5" cy="639.25" r="3.4" fill="#faa43a" stroke="#fff" stroke-width="1.7"/>
<circle cx="1098.9" cy="596.25" r="3.4" fill="#faa43a" stroke="#fff" stroke-width="1.7"/>
<circle cx="1124.3" cy="585.00" r="3.4" fill="#faa43a" stroke="#fff" stroke-width="1.7"/>
<circle cx="1149.7" cy="500.75" r="3.4" fill="#faa43a" stroke="#fff" stroke-width="1.7"/>
<circle cx="1175.1" cy="580.25" r="3.4" fill="#faa43a" stroke="#fff" stroke-width="1.7"/>
<circle cx="1200.5" cy="615.75" r="3.4" fill="#faa43a" stroke="#fff" stroke-width="1.7"/>
<circle cx="1225.9" cy="563.00" r="3.4" fill="#faa43a" stroke="#fff" stroke-width="1.7"/>
<circle cx="1251.3" cy="588.75" r="3.4" fill="#faa43a" stroke="#fff" stroke-width="1.7"/>
<circle cx="1276.7" cy="593.00" r="3.4" fill="#faa43a" stroke="#fff" stroke-width="1.7"/>
<circle cx="1302.1" cy="563.50" r="3.4" fill="#faa43a" stroke="#fff" stroke-width="1.7"/>
<circle cx="1327.5" cy="569.50" r="3.4" fill="#faa43a" stroke="#fff" stroke-width="1.7"/>
<circle cx="1352.9" cy="563.50" r="3.4" fill="#faa43a" stroke="#fff" stroke-width="1.7"/>
<circle cx="1403.7" cy="510.75" r="3.4" fill="#faa43a" stroke="#fff" stroke-width="1.7"/>
<circle cx="1429.1" cy="589.00" r="3.4" fill="#faa43a" stroke="#fff" stroke-width="1.7"/>
<circle cx="1454.5" cy="631.25" r="3.4" fill="#faa43a" stroke="#fff" stroke-width="1.7"/>
<circle cx="1479.9" cy="599.00" r="3.4" fill="#faa43a" stroke="#fff" stroke-width="1.7"/>
<circle cx="1505.3" cy="637.25" r="3.4" fill="#faa43a" stroke="#fff" stroke-width="1.7"/>
<circle cx="1530.7" cy="604.25" r="3.4" fill="#faa43a" stroke="#fff" stroke-width="1.7"/>
<circle cx="1556.1" cy="562.00" r="3.4" fill="#faa43a" stroke="#fff" stroke-width="1.7"/>
<circle cx="1581.5" cy="636.50" r="3.4" fill="#faa43a" stroke="#fff" stroke-width="1.7"/>
<circle cx="1606.9" cy="552.25" r="3.4" fill="#faa43a" stroke="#fff" stroke-width="1.7"/>
<circle cx="1632.3" cy="574.75" r="3.4" fill="#faa43a" stroke="#fff" stroke-width="1.7"/>
<circle cx="1657.7" cy="584.25" r="3.4" fill="#faa43a" stroke="#fff" stroke-width="1.7"/>
<path d="M1378.3 405V704" stroke="#c9c9c9" stroke-width="1" stroke-dasharray="4,4" fill="none"/>
<circle cx="1378.3" cy="571.5" r="5.2" fill="#00c0e0" fill-opacity="0.45"/>
<circle cx="1378.3" cy="571.5" r="3.8" fill="#00c0e0"/>
<circle cx="1378.3" cy="603.25" r="5.2" fill="#faa43a" fill-opacity="0.45"/>
<circle cx="1378.3" cy="603.25" r="3.8" fill="#faa43a"/>
<rect x="132.0" y="705" width="4.9" height="3.8" fill="#7b7b7b"/>
<rect x="182.8" y="705" width="4.9" height="3.8" fill="#7b7b7b"/>
<rect x="233.6" y="705" width="4.9" height="3.8" fill="#7b7b7b"/>
<rect x="284.4" y="705" width="4.9" height="3.8" fill="#7b7b7b"/>
<rect x="335.2" y="705" width="4.9" height="3.8" fill="#7b7b7b"/>
<rect x="386.0" y="705" width="4.9" height="3.8" fill="#7b7b7b"/>
<rect x="436.8" y="705" width="4.9" height="3.8" fill="#7b7b7b"/>
<rect x="487.6" y="705" width="4.9" height="3.8" fill="#7b7b7b"/>
<rect x="538.4" y="705" width="4.9" height="3.8" fill="#7b7b7b"/>
<rect x="589.2" y="705" width="4.9" height="3.8" fill="#7b7b7b"/>
<rect x="640.0" y="705" width="4.9" height="3.8" fill="#7b7b7b"/>
<rect x="690.8" y="705" width="4.9" height="3.8" fill="#7b7b7b"/>
<rect x="741.6" y="705" width="4.9" height="3.8" fill="#7b7b7b"/>
<rect x="792.4" y="705" width="4.9" height="3.8" fill="#7b7b7b"/>
<rect x="843.2" y="705" width="4.9" height="3.8" fill="#7b7b7b"/>
<rect x="894.0" y="705" width="4.9" height="3.8" fill="#7b7b7b"/>
<rect x="944.8" y="705" width="4.9" height="3.8" fill="#7b7b7b"/>
<rect x="995.6" y="705" width="4.9" height="3.8" fill="#7b7b7b"/>
<rect x="1046.4" y="705" width="4.9" height="3.8" fill="#7b7b7b"/>
<rect x="1097.2" y="705" width="4.9" height="3.8" fill="#7b7b7b"/>
<rect x="1148.0" y="705" width="4.9" height="3.8" fill="#7b7b7b"/>
<rect x="1198.8" y="705" width="4.9" height="3.8" fill="#7b7b7b"/>
<rect x="1249.6" y="705" width="4.9" height="3.8" fill="#7b7b7b"/>
<rect x="1300.4" y="705" width="4.9" height="3.8" fill="#7b7b7b"/>
<rect x="1351.2" y="705" width="4.9" height="3.8" fill="#7b7b7b"/>
<rect x="1402.0" y="705" width="4.9" height="3.8" fill="#7b7b7b"/>
<rect x="1452.8" y="705" width="4.9" height="3.8" fill="#7b7b7b"/>
<rect x="1503.6" y="705" width="4.9" height="3.8" fill="#7b7b7b"/>
<rect x="1554.4" y="705" width="4.9" height="3.8" fill="#7b7b7b"/>
<rect x="1605.2" y="705" width="4.9" height="3.8" fill="#7b7b7b"/>
<rect x="1656.0" y="705" width="4.9" height="3.8" fill="#7b7b7b"/>
<circle cx="1727.3" cy="420" r="8.2" fill="#00c0e0"/><circle cx="1727.3" cy="450.4" r="8.2" fill="#faa43a"/>
</svg>
<div class="abs" style="left:119.4px;top:711.7px;height:14px;line-height:14px;font-size:12px;font-weight:400;color:#555;letter-spacing:-0.005px;white-space:nowrap;">10:45</div>
<div class="abs" style="left:170.2px;top:711.7px;height:14px;line-height:14px;font-size:12px;font-weight:400;color:#555;letter-spacing:-0.005px;white-space:nowrap;">10:47</div>
<div class="abs" style="left:221.0px;top:711.7px;height:14px;line-height:14px;font-size:12px;font-weight:400;color:#555;letter-spacing:-0.005px;white-space:nowrap;">10:49</div>
<div class="abs" style="left:271.8px;top:711.7px;height:14px;line-height:14px;font-size:12px;font-weight:400;color:#555;letter-spacing:-0.005px;white-space:nowrap;">10:51</div>
<div class="abs" style="left:322.6px;top:711.7px;height:14px;line-height:14px;font-size:12px;font-weight:400;color:#555;letter-spacing:-0.005px;white-space:nowrap;">10:53</div>
<div class="abs" style="left:373.4px;top:711.7px;height:14px;line-height:14px;font-size:12px;font-weight:400;color:#555;letter-spacing:-0.005px;white-space:nowrap;">10:55</div>
<div class="abs" style="left:424.2px;top:711.7px;height:14px;line-height:14px;font-size:12px;font-weight:400;color:#555;letter-spacing:-0.005px;white-space:nowrap;">10:57</div>
<div class="abs" style="left:475.0px;top:711.7px;height:14px;line-height:14px;font-size:12px;font-weight:400;color:#555;letter-spacing:-0.005px;white-space:nowrap;">10:59</div>
<div class="abs" style="left:525.8px;top:711.7px;height:14px;line-height:14px;font-size:12px;font-weight:400;color:#555;letter-spacing:0.173px;white-space:nowrap;">11:01</div>
<div class="abs" style="left:576.6px;top:711.7px;height:14px;line-height:14px;font-size:12px;font-weight:400;color:#555;letter-spacing:0.173px;white-space:nowrap;">11:03</div>
<div class="abs" style="left:627.4px;top:711.7px;height:14px;line-height:14px;font-size:12px;font-weight:400;color:#555;letter-spacing:0.173px;white-space:nowrap;">11:05</div>
<div class="abs" style="left:678.2px;top:711.7px;height:14px;line-height:14px;font-size:12px;font-weight:400;color:#555;letter-spacing:0.173px;white-space:nowrap;">11:07</div>
<div class="abs" style="left:729.0px;top:711.7px;height:14px;line-height:14px;font-size:12px;font-weight:400;color:#555;letter-spacing:0.173px;white-space:nowrap;">11:09</div>
<div class="abs" style="left:779.8px;top:711.7px;height:14px;line-height:14px;font-size:12px;font-weight:400;color:#555;letter-spacing:0.351px;white-space:nowrap;">11:11</div>
<div class="abs" style="left:830.6px;top:711.7px;height:14px;line-height:14px;font-size:12px;font-weight:400;color:#555;letter-spacing:0.173px;white-space:nowrap;">11:13</div>
<div class="abs" style="left:881.4px;top:711.7px;height:14px;line-height:14px;font-size:12px;font-weight:400;color:#555;letter-spacing:0.173px;white-space:nowrap;">11:15</div>
<div class="abs" style="left:932.2px;top:711.7px;height:14px;line-height:14px;font-size:12px;font-weight:400;color:#555;letter-spacing:0.173px;white-space:nowrap;">11:17</div>
<div class="abs" style="left:983.0px;top:711.7px;height:14px;line-height:14px;font-size:12px;font-weight:400;color:#555;letter-spacing:0.173px;white-space:nowrap;">11:19</div>
<div class="abs" style="left:1033.8px;top:711.7px;height:14px;line-height:14px;font-size:12px;font-weight:400;color:#555;letter-spacing:0.173px;white-space:nowrap;">11:21</div>
<div class="abs" style="left:1084.6px;top:711.7px;height:14px;line-height:14px;font-size:12px;font-weight:400;color:#555;letter-spacing:0.173px;white-space:nowrap;">11:23</div>
<div class="abs" style="left:1135.4px;top:711.7px;height:14px;line-height:14px;font-size:12px;font-weight:400;color:#555;letter-spacing:0.173px;white-space:nowrap;">11:25</div>
<div class="abs" style="left:1186.2px;top:711.7px;height:14px;line-height:14px;font-size:12px;font-weight:400;color:#555;letter-spacing:0.173px;white-space:nowrap;">11:27</div>
<div class="abs" style="left:1237.0px;top:711.7px;height:14px;line-height:14px;font-size:12px;font-weight:400;color:#555;letter-spacing:0.173px;white-space:nowrap;">11:29</div>
<div class="abs" style="left:1287.8px;top:711.7px;height:14px;line-height:14px;font-size:12px;font-weight:400;color:#555;letter-spacing:0.173px;white-space:nowrap;">11:31</div>
<div class="abs" style="left:1338.6px;top:711.7px;height:14px;line-height:14px;font-size:12px;font-weight:400;color:#555;letter-spacing:0.173px;white-space:nowrap;">11:33</div>
<div class="abs" style="left:1389.4px;top:711.7px;height:14px;line-height:14px;font-size:12px;font-weight:400;color:#555;letter-spacing:0.173px;white-space:nowrap;">11:35</div>
<div class="abs" style="left:1440.2px;top:711.7px;height:14px;line-height:14px;font-size:12px;font-weight:400;color:#555;letter-spacing:0.173px;white-space:nowrap;">11:37</div>
<div class="abs" style="left:1491.0px;top:711.7px;height:14px;line-height:14px;font-size:12px;font-weight:400;color:#555;letter-spacing:0.173px;white-space:nowrap;">11:39</div>
<div class="abs" style="left:1541.8px;top:711.7px;height:14px;line-height:14px;font-size:12px;font-weight:400;color:#555;letter-spacing:0.173px;white-space:nowrap;">11:41</div>
<div class="abs" style="left:1592.6px;top:711.7px;height:14px;line-height:14px;font-size:12px;font-weight:400;color:#555;letter-spacing:0.173px;white-space:nowrap;">11:43</div>
<div class="abs" style="left:1643.4px;top:711.7px;height:14px;line-height:14px;font-size:12px;font-weight:400;color:#555;letter-spacing:0.173px;white-space:nowrap;">11:45</div>
<div class="abs" style="left:86.5px;top:697.6px;height:14px;line-height:14px;font-size:12px;font-weight:400;color:#555;letter-spacing:0.327px;white-space:nowrap;">0</div>
<div class="abs" style="left:79.5px;top:649.0px;height:14px;line-height:14px;font-size:12px;font-weight:400;color:#555;letter-spacing:0.327px;white-space:nowrap;">20</div>
<div class="abs" style="left:79.5px;top:600.3px;height:14px;line-height:14px;font-size:12px;font-weight:400;color:#555;letter-spacing:0.327px;white-space:nowrap;">40</div>
<div class="abs" style="left:79.5px;top:551.7px;height:14px;line-height:14px;font-size:12px;font-weight:400;color:#555;letter-spacing:0.327px;white-space:nowrap;">60</div>
<div class="abs" style="left:79.5px;top:503.0px;height:14px;line-height:14px;font-size:12px;font-weight:400;color:#555;letter-spacing:0.327px;white-space:nowrap;">80</div>
<div class="abs" style="left:72.5px;top:454.4px;height:14px;line-height:14px;font-size:12px;font-weight:400;color:#555;letter-spacing:0.327px;white-space:nowrap;">100</div>
<div class="abs" style="left:0.0px;top:-8.0px;height:16px;line-height:16px;font-size:13px;font-weight:400;color:#555;letter-spacing:0.170px;white-space:nowrap;left:13.5px;top:546px;transform:rotate(-90deg);transform-origin:center;">Traffic ( bps )</div>
<div class="abs" style="left:848.0px;top:740.0px;height:15px;line-height:15px;font-size:12.5px;font-weight:400;color:#555;letter-spacing:0.542px;white-space:nowrap;">Time ( HH:MM )</div>
<div class="abs" style="left:852.0px;top:369.0px;height:22px;line-height:22px;font-size:18px;font-weight:400;color:#555;letter-spacing:0.390px;white-space:nowrap;">1 Minute Average</div>
<div class="abs" style="left:1742.6px;top:409.5px;height:23px;line-height:23px;font-size:19.5px;font-weight:400;color:#555;letter-spacing:0.750px;white-space:nowrap;">IN</div>
<div class="abs" style="left:1742.4px;top:439.9px;height:23px;line-height:23px;font-size:19.5px;font-weight:400;color:#555;letter-spacing:0.013px;white-space:nowrap;">OUT</div>
<div class="abs" style="left:1409px;top:371.8px;width:188.2px;height:63.2px;background:#343434;border-radius:5px;"></div>
<div class="abs" style="left:1416.0px;top:380.5px;height:14px;line-height:14px;font-size:12px;font-weight:400;color:#fff;letter-spacing:0.086px;white-space:nowrap;">Time: 07 Mar 2023 11:34:00 IST</div>
<div class="abs" style="left:1428.0px;top:396.4px;height:14px;line-height:14px;font-size:12px;font-weight:400;color:#fff;letter-spacing:0.141px;white-space:nowrap;">IN : 54.400 bps</div>
<div class="abs" style="left:1427.6px;top:412.5px;height:14px;line-height:14px;font-size:12px;font-weight:400;color:#fff;letter-spacing:0.082px;white-space:nowrap;">OUT : 41.200 bps</div>
<svg width="20" height="40" style="left:1410px;top:395px"><circle cx="10.5" cy="9.5" r="5" fill="#3bcbe6"/><circle cx="10.5" cy="25.7" r="5" fill="#fbb161"/></svg>
<div class="abs" style="left:24px;top:794px;width:1859px;height:146px;background:#fff;"></div>
<div class="abs" style="left:24px;top:794px;width:145px;height:146px;background:#f4f4f6;"></div>
<div class="abs" style="left:168px;top:794px;width:1716px;height:48px;background:#f4f4f6;border-top:1px solid #e4e4e4;box-sizing:border-box;"></div>
<div class="abs" style="left:168px;top:841.3px;width:1716px;height:1.7px;background:#dedede;"></div>
<div class="abs" style="left:168px;top:898px;width:1716px;height:1px;background:#e4e4e4;"></div>
<div class="abs" style="left:168px;top:939px;width:1716px;height:1px;background:#e4e4e4;"></div>
<div class="abs" style="left:168px;top:794px;width:1px;height:146px;background:#e4e4e4;"></div>
<div class="abs" style="left:1883px;top:794px;width:1px;height:146px;background:#e4e4e4;"></div>
<div class="abs" style="left:413px;top:795px;width:1px;height:46px;background:#e4e4e4;"></div>
<div class="abs" style="left:658px;top:795px;width:1px;height:46px;background:#e4e4e4;"></div>
<div class="abs" style="left:902px;top:795px;width:1px;height:46px;background:#e4e4e4;"></div>
<div class="abs" style="left:1147px;top:795px;width:1px;height:46px;background:#e4e4e4;"></div>
<div class="abs" style="left:1392px;top:795px;width:1px;height:46px;background:#e4e4e4;"></div>
<div class="abs" style="left:1637px;top:795px;width:1px;height:46px;background:#e4e4e4;"></div>
<svg width="200" height="100" style="left:24px;top:794px"><circle cx="71.9" cy="56" r="11.6" fill="none" stroke="#444" stroke-width="1.1"/><path d="M71.6 47.2V53H76" fill="none" stroke="#444" stroke-width="1.1"/></svg>
<div class="abs" style="left:46.8px;top:872.5px;height:22px;line-height:22px;font-size:18px;font-weight:400;color:#8b9097;letter-spacing:-0.590px;white-space:nowrap;">00:00 - 00:00</div>
<div class="abs" style="left:248.6px;top:806.5px;height:20px;line-height:20px;font-size:17px;font-weight:700;color:#2a2a2a;letter-spacing:-0.585px;white-space:nowrap;">Category</div>
<div class="abs" style="left:516.5px;top:806.5px;height:20px;line-height:20px;font-size:17px;font-weight:700;color:#2a2a2a;letter-spacing:-0.468px;white-space:nowrap;">Total</div>
<div class="abs" style="left:742.0px;top:806.5px;height:20px;line-height:20px;font-size:17px;font-weight:700;color:#2a2a2a;letter-spacing:-0.344px;white-space:nowrap;">Maximum</div>
<div class="abs" style="left:989.0px;top:806.5px;height:20px;line-height:20px;font-size:17px;font-weight:700;color:#2a2a2a;letter-spacing:-0.372px;white-space:nowrap;">Minimum</div>
<div class="abs" style="left:1239.0px;top:806.5px;height:20px;line-height:20px;font-size:17px;font-weight:700;color:#2a2a2a;letter-spacing:-0.709px;white-space:nowrap;">Average</div>
<div class="abs" style="left:1441.5px;top:806.5px;height:20px;line-height:20px;font-size:17px;font-weight:700;color:#2a2a2a;letter-spacing:-0.523px;white-space:nowrap;">Standard Deviation</div>
<div class="abs" style="left:1703.0px;top:806.5px;height:20px;line-height:20px;font-size:17px;font-weight:700;color:#2a2a2a;letter-spacing:-0.362px;white-space:nowrap;">95th Percentile</div>
<svg width="20" height="20" style="left:320px;top:808px"><path d="M2.6 9.8L6.85 5.3L11.1 9.8Z" fill="#333"/><path d="M2.6 12L6.85 17L11.1 12Z" fill="#bdbdbd"/></svg>
<div class="abs" style="left:260.2px;top:869.0px;height:19px;line-height:19px;font-size:15.5px;font-weight:400;color:#333;letter-spacing:0.040px;white-space:nowrap;">Traffic IN</div>
<div class="abs" style="left:500.0px;top:869.0px;height:19px;line-height:19px;font-size:15.5px;font-weight:400;color:#333;letter-spacing:0.001px;white-space:nowrap;">23.981 KB</div>
<div class="abs" style="left:743.6px;top:869.0px;height:19px;line-height:19px;font-size:15.5px;font-weight:400;color:#333;letter-spacing:-0.170px;white-space:nowrap;">87.333 bps</div>
<div class="abs" style="left:988.5px;top:869.0px;height:19px;line-height:19px;font-size:15.5px;font-weight:400;color:#333;letter-spacing:-0.170px;white-space:nowrap;">17.067 bps</div>
<div class="abs" style="left:1233.0px;top:869.0px;height:19px;line-height:19px;font-size:15.5px;font-weight:400;color:#333;letter-spacing:-0.110px;white-space:nowrap;">52.417 bps</div>
<div class="abs" style="left:1478.0px;top:869.0px;height:19px;line-height:19px;font-size:15.5px;font-weight:400;color:#333;letter-spacing:-0.170px;white-space:nowrap;">18.087 bps</div>
<div class="abs" style="left:1728.0px;top:869.0px;height:19px;line-height:19px;font-size:15.5px;font-weight:400;color:#333;letter-spacing:-0.164px;white-space:nowrap;">0.000 bps</div>
<div class="abs" style="left:252.3px;top:910.0px;height:19px;line-height:19px;font-size:15.5px;font-weight:400;color:#333;letter-spacing:-0.075px;white-space:nowrap;">Traffic OUT</div>
<div class="abs" style="left:500.0px;top:910.0px;height:19px;line-height:19px;font-size:15.5px;font-weight:400;color:#333;letter-spacing:0.001px;white-space:nowrap;">23.249 KB</div>
<div class="abs" style="left:739.4px;top:910.0px;height:19px;line-height:19px;font-size:15.5px;font-weight:400;color:#333;letter-spacing:-0.156px;white-space:nowrap;">105.600 bps</div>
<div class="abs" style="left:988.5px;top:910.0px;height:19px;line-height:19px;font-size:15.5px;font-weight:400;color:#333;letter-spacing:-0.170px;white-space:nowrap;">21.600 bps</div>
<div class="abs" style="left:1233.0px;top:910.0px;height:19px;line-height:19px;font-size:15.5px;font-weight:400;color:#333;letter-spacing:-0.110px;white-space:nowrap;">50.817 bps</div>
<div class="abs" style="left:1478.0px;top:910.0px;height:19px;line-height:19px;font-size:15.5px;font-weight:400;color:#333;letter-spacing:-0.170px;white-space:nowrap;">16.077 bps</div>
<div class="abs" style="left:1728.0px;top:910.0px;height:19px;line-height:19px;font-size:15.5px;font-weight:400;color:#333;letter-spacing:-0.164px;white-space:nowrap;">0.000 bps</div>
<div class="abs" style="left:24px;top:958px;width:1860px;height:48px;background:#f4f4f6;border:1px solid #e4e4e4;border-bottom:none;box-sizing:border-box;"></div>
<div class="abs" style="left:24px;top:1005px;width:1860px;height:1.7px;background:#dedede;"></div>
<div class="abs" style="left:24px;top:1006px;width:1px;height:50px;background:#e4e4e4;"></div>
<div class="abs" style="left:1883px;top:1006px;width:1px;height:50px;background:#e4e4e4;"></div>
<div class="abs" style="left:30.0px;top:969.5px;height:20px;line-height:20px;font-size:17px;font-weight:700;color:#2a2a2a;letter-spacing:-0.592px;white-space:nowrap;">Time</div>
<div class="abs" style="left:657.5px;top:969.5px;height:20px;line-height:20px;font-size:17px;font-weight:700;color:#2a2a2a;letter-spacing:-0.324px;white-space:nowrap;">IN Traffic</div>
<div class="abs" style="left:1278.0px;top:969.5px;height:20px;line-height:20px;font-size:17px;font-weight:700;color:#2a2a2a;letter-spacing:-0.465px;white-space:nowrap;">OUT Traffic</div>
<svg width="20" height="20" style="left:68px;top:973px"><path d="M3.3 8.8L8 3.3L12.7 8.8Z" fill="#bdbdbd"/><path d="M3.3 10.8L8 16.5L12.7 10.8Z" fill="#333"/></svg>
<div class="abs" style="left:37.0px;top:1032.0px;height:19px;line-height:19px;font-size:15.5px;font-weight:400;color:#333;letter-spacing:0.305px;white-space:nowrap;">Mar-07-23 11:45</div>
<div class="abs" style="left:657.5px;top:1032.0px;height:19px;line-height:19px;font-size:15.5px;font-weight:400;color:#333;letter-spacing:-0.120px;white-space:nowrap;">81.467 bps</div>
<div class="abs" style="left:1278.0px;top:1032.0px;height:19px;line-height:19px;font-size:15.5px;font-weight:400;color:#333;letter-spacing:-0.120px;white-space:nowrap;">49.067 bps</div>
<div class="abs" style="left:0;top:1055.5px;width:1920px;height:24.5px;background:#fff;"></div>
<div class="abs" style="left:1890.4px;top:288px;width:1.8px;height:198.5px;background:#666;"></div>
</div></body></html>
